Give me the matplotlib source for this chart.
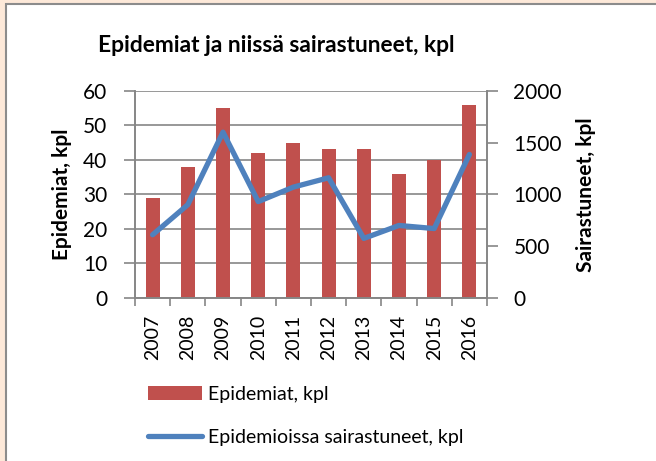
import matplotlib
matplotlib.use("Agg")
import matplotlib.pyplot as plt
from matplotlib.patches import Rectangle
import numpy as np

plt.rcParams['font.family'] = ['Lato', 'DejaVu Sans']

years = ['2007', '2008', '2009', '2010', '2011', '2012', '2013', '2014', '2015', '2016']
epidemiat = [29, 38, 55, 42, 45, 43, 43, 36, 40, 56]
sairastuneet = [610, 900, 1600, 930, 1070, 1160, 575, 700, 670, 1385]

title = 'Epidemiat ja niissä sairastuneet, kpl'
ylabel_left = 'Epidemiat, kpl'
ylabel_right = 'Sairastuneet, kpl'
legend_bar = 'Epidemiat, kpl'
legend_line = 'Epidemioissa sairastuneet, kpl'

W, H = 656, 461
fig = plt.figure(figsize=(W / 100, H / 100), dpi=100)
fig.patch.set_facecolor('#fde9d9')
# white chart frame with grey border
fig.patches.append(Rectangle((6 / W, -0.1), 1.1, 1.1 - 4 / H, transform=fig.transFigure,
                             facecolor='white', edgecolor='#8c8c8c', linewidth=1.5, zorder=-5))

L, R, T, B = 135, 487, 90.7, 298
ax = fig.add_axes([L / W, (H - B) / H, (R - L) / W, (B - T) / H])
ax.set_facecolor('none')
x = np.arange(len(years))
grey = '#868686'

bars = ax.bar(x, epidemiat, width=0.4, color='#c0504d', zorder=2, label=legend_bar)
ax.set_ylim(0, 60)
ax.set_yticks(range(0, 61, 10))
ax.set_xlim(-0.5, len(years) - 0.5)
ax.yaxis.grid(True, color=grey, linewidth=1.2, zorder=0)
ax.set_axisbelow(True)
ax.set_xticks(x)
ax.set_xticklabels(years, rotation=90)
ax.set_xticks(np.arange(-0.5, len(years), 1), minor=True)
ax.tick_params(axis='x', which='major', length=0, pad=12, labelsize=14)
ax.tick_params(axis='x', which='minor', length=6, color=grey, width=1.2)
ax.tick_params(axis='y', length=8, color=grey, width=1.2, pad=12, labelsize=15)
for s in ['left', 'bottom', 'right']:
    ax.spines[s].set_color(grey)
    ax.spines[s].set_linewidth(1.2)
ax.spines['top'].set_visible(False)
ax.set_ylabel(ylabel_left, fontsize=15, fontweight='bold', labelpad=8)

ax2 = ax.twinx()
line, = ax2.plot(x, sairastuneet, color='#4f81bd', linewidth=3.8,
                 solid_joinstyle='round', solid_capstyle='round', label=legend_line, zorder=3)
ax2.set_ylim(0, 2000)
ax2.set_yticks(range(0, 2001, 500))
ax2.tick_params(axis='y', length=8, color=grey, width=1.2, pad=11, labelsize=15)
for s in ['left', 'bottom', 'right']:
    ax2.spines[s].set_color(grey)
    ax2.spines[s].set_linewidth(1.2)
ax2.spines['top'].set_visible(False)
ax2.set_ylabel(ylabel_right, fontsize=15, fontweight='bold', labelpad=10)

fig.text(276 / W, 1 - 45 / H, title, ha='center', va='center', fontsize=16.4, fontweight='bold')

fig.legend([bars, line], [legend_bar, legend_line], loc='upper left',
           bbox_to_anchor=(140 / W, 1 - 378 / H), frameon=False, fontsize=14,
           handlelength=2.8, handletextpad=0.3, labelspacing=1.35, borderaxespad=0)

fig.savefig('out.png', dpi=100, facecolor=fig.get_facecolor())
